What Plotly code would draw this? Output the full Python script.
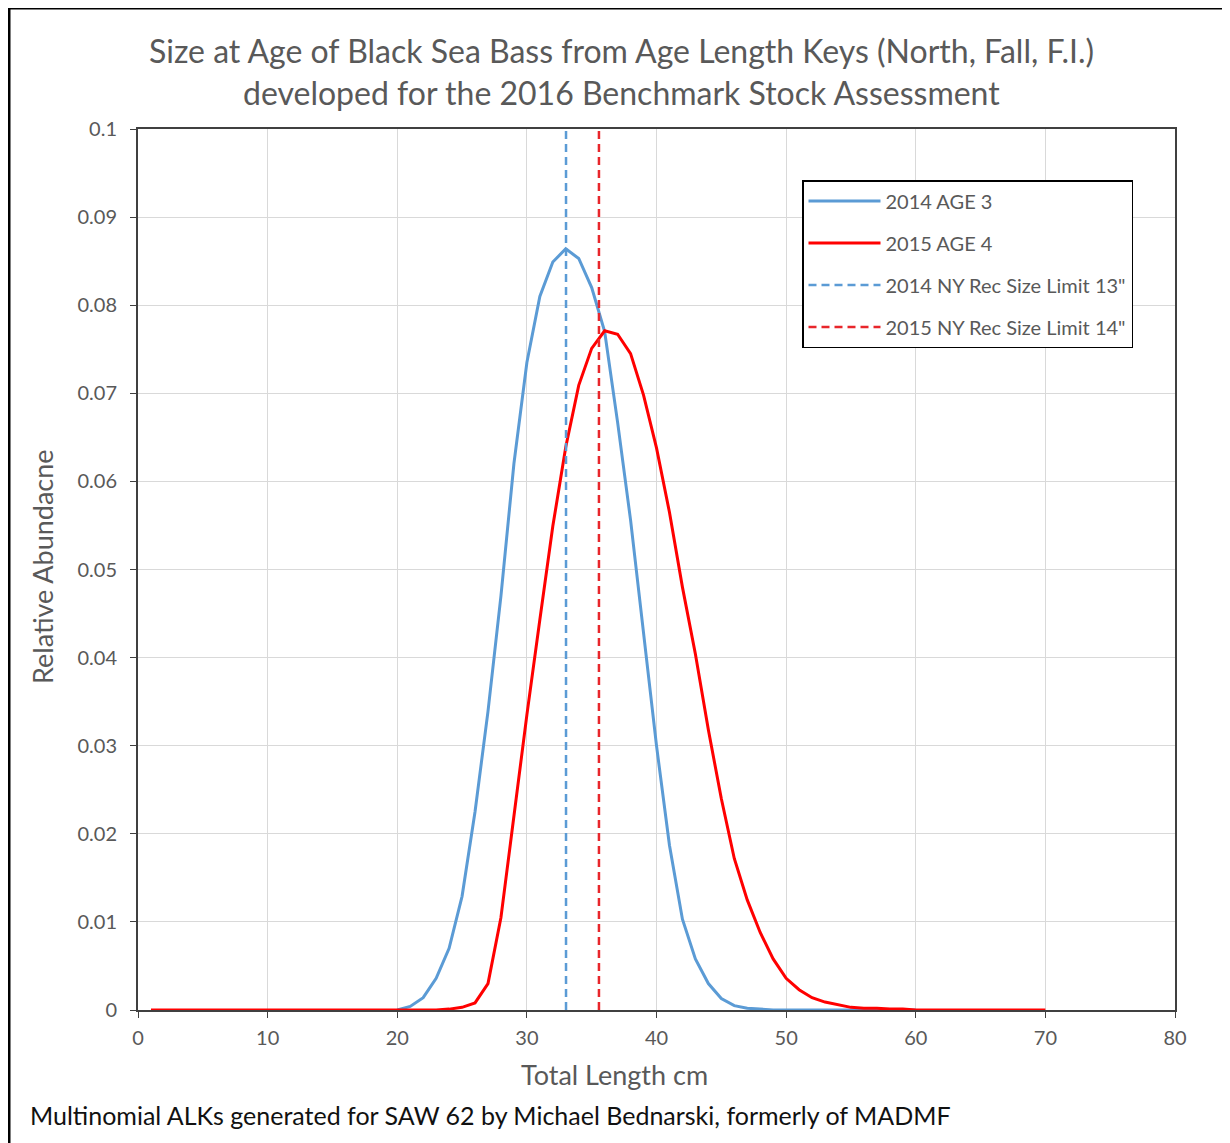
import plotly.graph_objects as go

# ---------------- data ----------------
length_red = list(range(1, 71))
age4_2015 = [0]*23 + [
    0.0001, 0.0003, 0.0008, 0.0030, 0.0105, 0.0220, 0.0335, 0.0443, 0.0549, 0.0639,  # 24-33
    0.0709, 0.0751, 0.0771, 0.0767, 0.0745, 0.0698, 0.0638, 0.0565, 0.0480, 0.0404,  # 34-43
    0.0318, 0.0240, 0.0172, 0.0125, 0.0088, 0.0058, 0.0036, 0.0023, 0.0014, 0.0009,  # 44-53
    0.0006, 0.0003, 0.0002, 0.0002, 0.0001, 0.0001,                                  # 54-59
] + [0]*11                                                                            # 60-70

length_blue = list(range(20, 61))
age3_2014 = [
    0.0, 0.0004, 0.0014, 0.0036, 0.0070, 0.0129, 0.0225, 0.0339, 0.0470, 0.0620,      # 20-29
    0.0735, 0.0810, 0.0849, 0.0864, 0.0853, 0.0820, 0.0770, 0.0667, 0.0556, 0.0430,  # 30-39
    0.0300, 0.0187, 0.0103, 0.0058, 0.0030, 0.0013, 0.0005, 0.0002, 0.0001, 0.0,     # 40-49
] + [0.0]*11                                                                          # 50-60

size_limit_inches = [13, 14]          # 2014, 2015 NY rec size limits
CM_PER_INCH = 2.54
limit_cm = [v * CM_PER_INCH for v in size_limit_inches]
y_span = [0, 0.1]

series_names = ["2014 AGE 3", "2015 AGE 4",
                "2014 NY Rec Size Limit 13\"", "2015 NY Rec Size Limit 14\""]

x_tick_vals = [0, 10, 20, 30, 40, 50, 60, 70, 80]
y_tick_vals = [0, 0.01, 0.02, 0.03, 0.04, 0.05, 0.06, 0.07, 0.08, 0.09, 0.1]
y_tick_text = ["0", "0.01", "0.02", "0.03", "0.04", "0.05", "0.06", "0.07", "0.08", "0.09", "0.1"]

# ---------------- styling ----------------
BLUE = "#5B9BD5"
RED = "#FF0000"
RED_DASH = "#E8262B"
GRAY = "#595959"
FONT = "Lato"

OFF = 8  # page body margin
# plot area in page pixels
L, R, T, B = 138, 1175, 129, 1010
W, H = 1230 - OFF, 1143 - OFF
PW, PH = R - L, B - T


def px(x):
    return (x - L) / PW


def py(y):
    return (B - y) / PH


fig = go.Figure()

fig.add_trace(go.Scatter(x=length_blue, y=age3_2014, mode="lines", name=series_names[0],
                         legendgroup="a", line=dict(color=BLUE, width=3)))
fig.add_trace(go.Scatter(x=length_red, y=age4_2015, mode="lines", name=series_names[1],
                         legendgroup="b", line=dict(color=RED, width=3)))
fig.add_trace(go.Scatter(x=[limit_cm[0]] * 2, y=y_span, mode="lines", name=series_names[2],
                         legendgroup="c", line=dict(color=BLUE, width=2.5, dash="8px,5px")))
fig.add_trace(go.Scatter(x=[limit_cm[1]] * 2, y=y_span, mode="lines", name=series_names[3],
                         legendgroup="d", line=dict(color=RED_DASH, width=2.5, dash="8px,5px")))

fig.update_layout(
    width=W, height=H,
    margin=dict(l=L - OFF, r=W - (R - OFF), t=T - OFF, b=H - (B - OFF)),
    paper_bgcolor="white", plot_bgcolor="white",
    font=dict(family=FONT, color=GRAY),
    showlegend=True,
    legend=dict(
        x=px(802), y=py(180), xanchor="left", yanchor="top",
        bgcolor="white", bordercolor="#000000", borderwidth=1.5,
        font=dict(size=20, color=GRAY, family=FONT),
        tracegroupgap=13,
        traceorder="grouped",
        itemwidth=72,
    ),
    xaxis=dict(
        range=[0, 80], tickvals=x_tick_vals, ticks="outside", ticklen=6,
        tickcolor="#404040", showgrid=True, gridcolor="#D9D9D9", gridwidth=1,
        showline=True, linecolor="#404040", linewidth=2, mirror=True,
        zeroline=False, tickfont=dict(size=20, color=GRAY, family=FONT),
        ticklabelstandoff=3,
    ),
    yaxis=dict(
        range=[0, 0.1], tickvals=y_tick_vals, ticktext=y_tick_text,
        ticks="outside", ticklen=6, tickcolor="#404040",
        showgrid=True, gridcolor="#D9D9D9", gridwidth=1,
        showline=True, linecolor="#404040", linewidth=2, mirror=True,
        zeroline=False, tickfont=dict(size=20, color=GRAY, family=FONT),
        ticklabelstandoff=9,
    ),
)

annotations = [
    dict(text="Size at Age of Black Sea Bass from Age Length Keys (North, Fall, F.I.)",
         x=px(621), y=py(50), font=dict(size=32, color=GRAY, family=FONT)),
    dict(text="developed for the 2016 Benchmark Stock Assessment",
         x=px(621), y=py(93), font=dict(size=32, color=GRAY, family=FONT)),
    dict(text="Total Length cm", x=px(614), y=py(1074),
         font=dict(size=27, color=GRAY, family=FONT)),
    dict(text="Relative Abundacne", x=px(42), y=py(567), textangle=-90,
         font=dict(size=27, color=GRAY, family=FONT)),
    dict(text="Multinomial ALKs generated for SAW 62 by Michael Bednarski, formerly of MADMF",
         x=px(28), y=py(1115), xanchor="left",
         font=dict(size=25, color="#111111", family=FONT)),
]
for a in annotations:
    a.setdefault("xanchor", "center")
    a.update(xref="paper", yref="paper", yanchor="middle", showarrow=False)
    fig.add_annotation(**a)

# outer figure frame
fig.add_shape(type="rect", xref="paper", yref="paper",
              x0=px(9), x1=px(1228), y0=py(1160), y1=py(8),
              line=dict(color="#000000", width=3), layer="above")

fig.write_html("out.html")
